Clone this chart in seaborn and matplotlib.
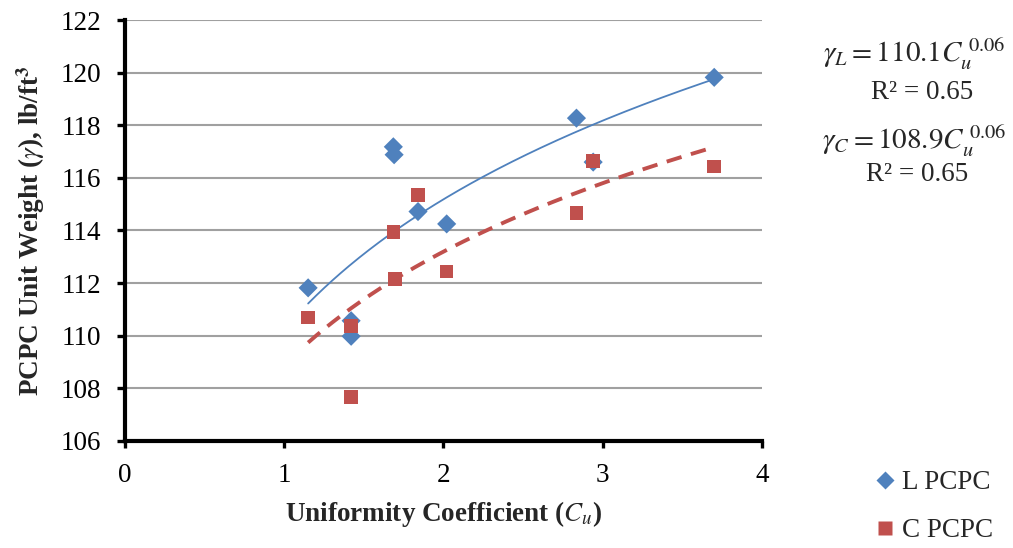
import numpy as np
import pandas as pd
import matplotlib
matplotlib.use("Agg")
import matplotlib.pyplot as plt
import seaborn as sns
from matplotlib.lines import Line2D

# Measured unit weights versus uniformity coefficient
cu_l = [1.15, 1.42, 1.42, 1.685, 1.69, 1.84, 2.02, 2.835, 2.94, 3.70]
gamma_l = [111.82, 109.98, 110.57, 117.18, 116.88, 114.72, 114.25, 118.27, 116.60, 119.82]

cu_c = [1.15, 1.42, 1.42, 1.685, 1.695, 1.84, 2.02, 2.835, 2.94, 3.70]
gamma_c = [110.70, 110.38, 107.68, 113.95, 112.16, 115.35, 112.44, 114.67, 116.65, 116.43]

series_names = ["L PCPC", "C PCPC"]
x_ticks = [0, 1, 2, 3, 4]
y_ticks = [106, 108, 110, 112, 114, 116, 118, 120, 122]

blue = "#4F81BD"
red = "#C0504D"

df = pd.DataFrame({
    "Cu": cu_l + cu_c,
    "gamma": gamma_l + gamma_c,
    "series": [series_names[0]] * len(cu_l) + [series_names[1]] * len(cu_c),
})

sns.set_theme(style="white")
plt.rcParams["font.family"] = ["Liberation Serif", "DejaVu Serif"]
plt.rcParams["mathtext.fontset"] = "stix"

FS = 19.5

fig = plt.figure(figsize=(10.13, 5.48), dpi=100)
ax = fig.add_axes([0.1234, 0.1953, 0.6288, 0.7682])

# Power-law trend lines fitted in log space
for cu, gm, col, ls, lw in [(cu_l, gamma_l, blue, "-", 1.3), (cu_c, gamma_c, red, (0, (4, 2.5)), 2.8)]:
    b, ln_a = np.polyfit(np.log(cu), np.log(gm), 1)
    xs = np.linspace(min(cu), max(cu), 200)
    ax.plot(xs, np.exp(ln_a) * xs ** b, color=col, ls=ls, lw=lw, zorder=2)

sns.scatterplot(data=df, x="Cu", y="gamma", hue="series", style="series",
                palette={series_names[0]: blue, series_names[1]: red},
                markers={series_names[0]: "D", series_names[1]: "s"},
                s=95, edgecolor="none", ax=ax, legend=False, zorder=3)

ax.set_xlim(0, 4)
ax.set_ylim(106, 122)
ax.set_xticks(x_ticks)
ax.set_yticks(y_ticks)
ax.tick_params(axis="both", labelsize=FS, colors="black", width=2.4, direction="out", pad=11)
ax.tick_params(axis="y", length=6, left=True)
ax.tick_params(axis="x", length=5, bottom=True)
ax.yaxis.grid(True, color="#A0A0A0", lw=1.5)
ax.xaxis.grid(False)
for side in ["top", "right"]:
    ax.spines[side].set_visible(False)
for side in ["left", "bottom"]:
    ax.spines[side].set_color("black")
    ax.spines[side].set_linewidth(3.0)

ax.set_xlabel(r"Uniformity Coefficient ($\boldsymbol{C_u}$)", fontsize=FS, fontweight="bold", labelpad=8)
ax.set_ylabel(r"PCPC Unit Weight ($\gamma$), lb/ft$^\mathbf{3}$", fontsize=FS, fontweight="bold", labelpad=10)

# Fit equations
fig.text(0.902, 0.886, r"$\gamma_L = 110.1C_u^{\;0.06}$", fontsize=21, ha="center", va="baseline")
fig.text(0.910, 0.820, "R² = 0.65", fontsize=FS, ha="center", va="baseline")
fig.text(0.902, 0.727, r"$\gamma_C = 108.9C_u^{\;0.06}$", fontsize=21, ha="center", va="baseline")
fig.text(0.905, 0.670, "R² = 0.65", fontsize=FS, ha="center", va="baseline")

handles = [
    Line2D([], [], marker="D", color=blue, ls="none", markersize=9, markeredgecolor="none"),
    Line2D([], [], marker="s", color=red, ls="none", markersize=10, markeredgecolor="none"),
]
fig.legend(handles, series_names, loc="lower left", bbox_to_anchor=(0.836, -0.036),
           frameon=False, fontsize=FS, labelspacing=0.85, handletextpad=0.15, handlelength=1.0)

fig.savefig("out.png", dpi=100)
